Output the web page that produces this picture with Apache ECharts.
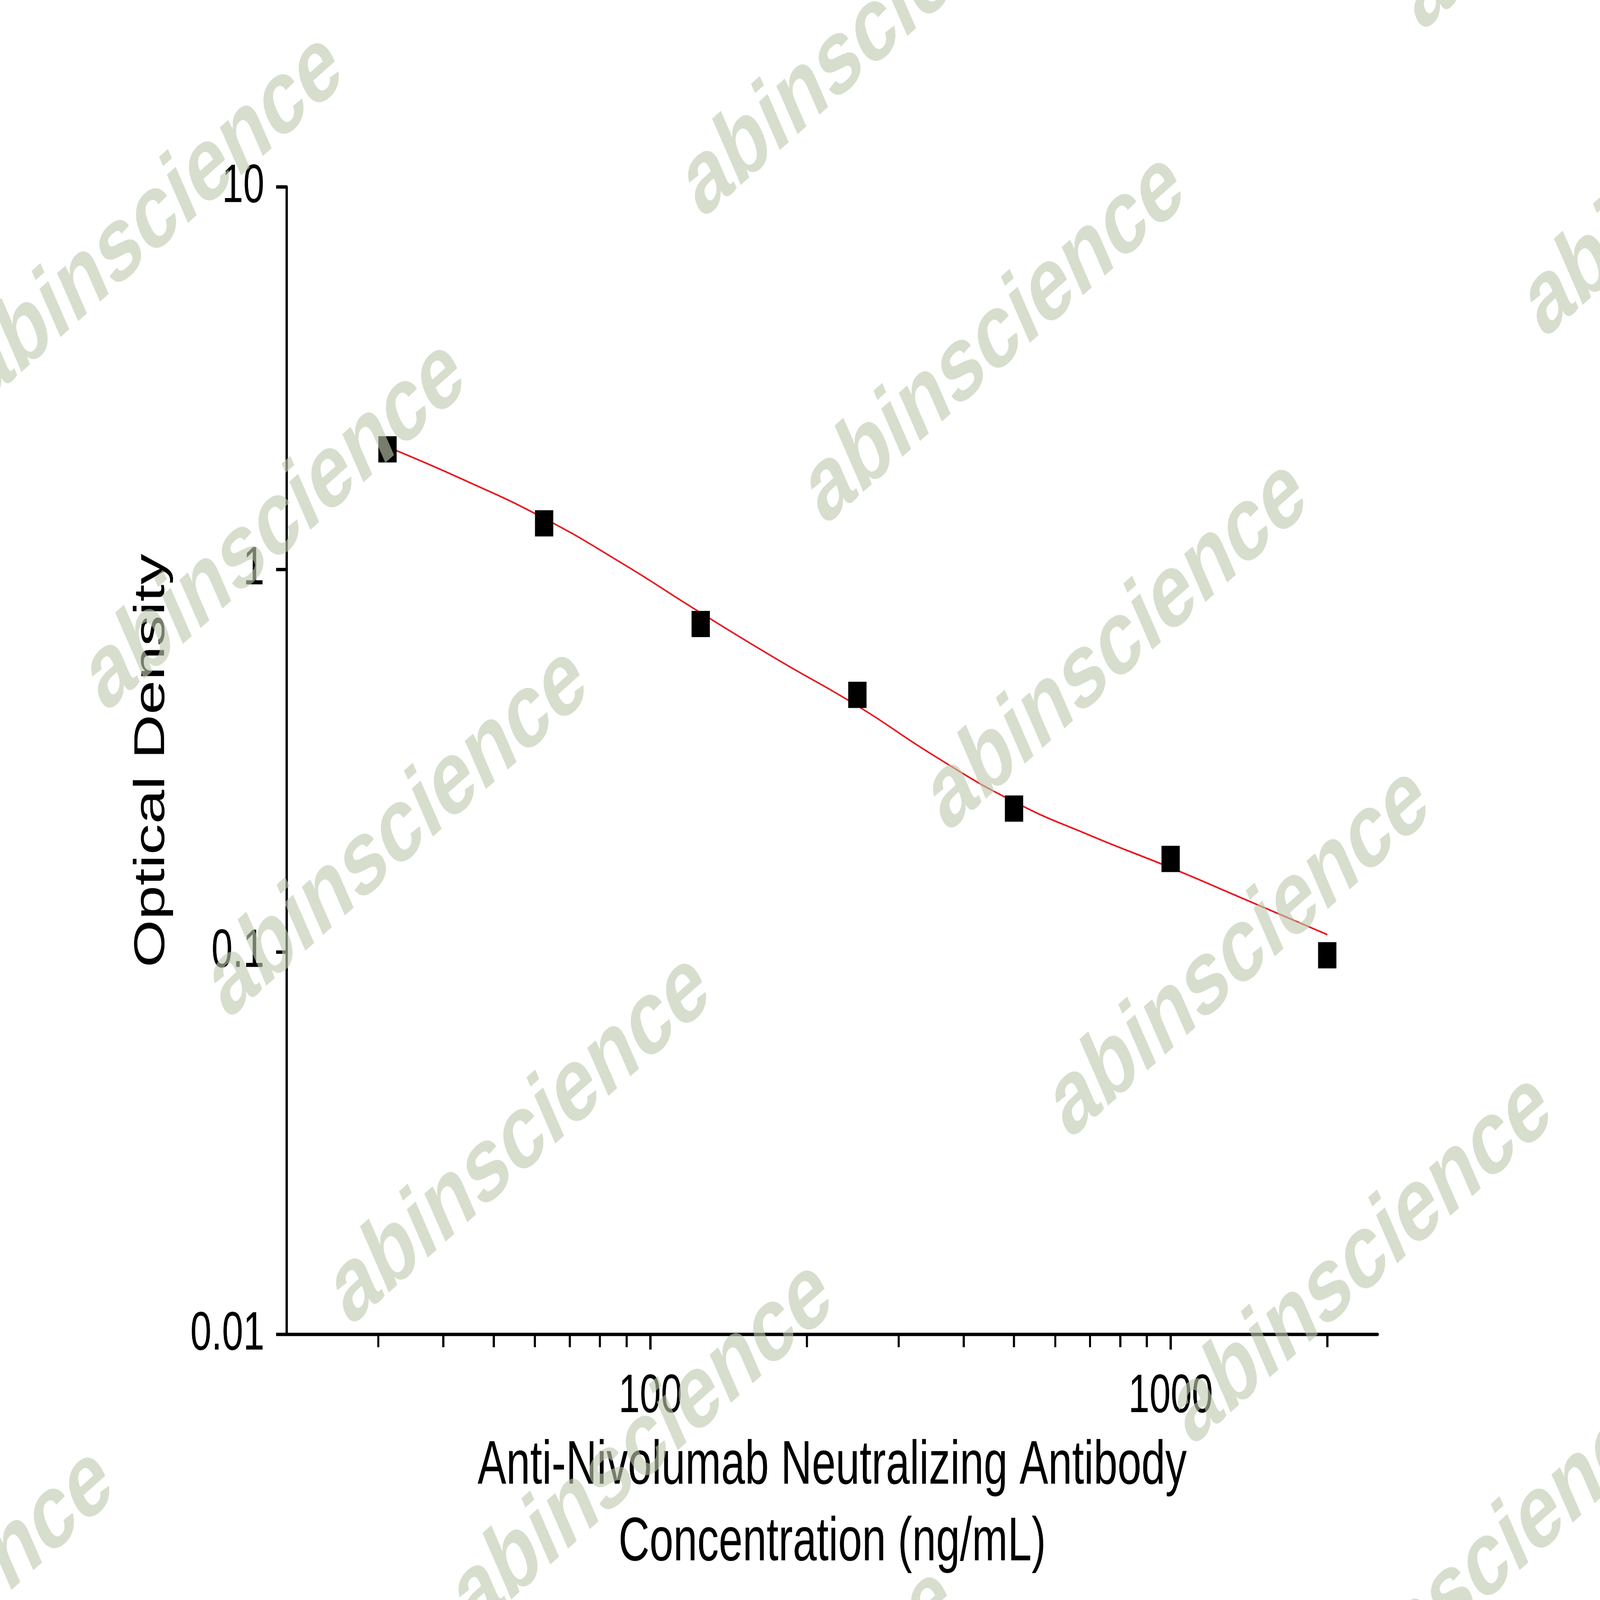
<!DOCTYPE html>
<html><head><meta charset="utf-8">
<script src="https://cdn.jsdelivr.net/npm/echarts@6/dist/echarts.min.js"></script>
<style>html,body{margin:0;padding:0;background:#fff;overflow:hidden;width:100%;height:100%}#c{width:6816px;height:4759px;transform-origin:0 0;position:absolute;left:0;top:0}</style>
</head><body><div id="c"></div>
<script>
const concentrations = [31.25, 62.5, 125, 250, 500, 1000, 2000];
const opticalDensity = [2.06, 1.32, 0.72, 0.47, 0.237, 0.175, 0.098];
const fitConc = [31.25, 44, 62.5, 88, 125, 176, 250, 352, 500, 704, 1000, 1410, 2000];
const fitOD = [2.09, 1.71, 1.36, 1.04, 0.77, 0.58, 0.44, 0.325, 0.247, 0.201, 0.166, 0.136, 0.111];
const xMajorTicks = [100, 1000];
const xMinorTicks = [30, 40, 50, 60, 70, 80, 90, 200, 300, 400, 500, 600, 700, 800, 900, 2000];
const yTicks = [0.01, 0.1, 1, 10];
const xRange = [20, 2500];

const L = Math.log10;
const el = document.getElementById('c');
el.style.transform = 'scale(' + (window.innerWidth / 6816) + ',' + (window.innerHeight / 4759) + ')';
const s = 6816 / 1568, sv = 4759 / 1095;
const fmt = v => { const n = Math.pow(10, Math.round(v)); return n < 1 ? n.toFixed(-Math.round(v)) : String(n); };

const wm = [];
const bases = [[-435, 488], [270, 360], [975, 232], [1680, 104]];
bases.forEach(b => {
  for (let i = -3; i <= 5; i++) {
    const cx = b[0] + 120 * i, cy = b[1] + 210 * i;
    if (cx < -400 || cx > 2000 || cy < -200 || cy > 1300) continue;
    wm.push({type: 'text', x: cx * s, y: cy * sv, rotation: 32 * Math.PI / 180, z: 100,
      style: {text: 'abinscience', font: 'bold 320px "Liberation Sans", Arial, sans-serif',
        fill: 'rgba(190,202,175,0.62)', textAlign: 'center', textVerticalAlign: 'middle'}});
  }
});

const axisLineStyle = {color: '#000', width: 10};
const ff = 'Liberation Sans, Arial';
const chart = echarts.init(el, null, {devicePixelRatio: 1, width: 6816, height: 4759});
chart.setOption({
  animation: false,
  backgroundColor: '#fff',
  grid: {left: 1221, right: 947, top: 556, bottom: 790},
  xAxis: [{
    type: 'value', min: L(xRange[0]), max: L(xRange[1]),
    splitLine: {show: false},
    axisLine: {show: true, onZero: false, lineStyle: axisLineStyle},
    axisTick: {show: true, length: 45, lineStyle: {width: 10, color: '#000'}, customValues: xMajorTicks.map(L)},
    axisLabel: {customValues: xMajorTicks.map(L), formatter: fmt, fontSize: 162, color: '#000', margin: 105, fontFamily: ff},
    name: 'Anti-Nivolumab Neutralizing Antibody\nConcentration (ng/mL)', nameLocation: 'middle', nameGap: 280,
    nameTextStyle: {fontSize: 183, color: '#000', lineHeight: 228, fontFamily: ff, verticalAlign: 'top'}
  }, {
    type: 'value', min: L(xRange[0]), max: L(xRange[1]), position: 'bottom',
    splitLine: {show: false}, axisLine: {show: false, onZero: false},
    axisTick: {show: true, length: 38, lineStyle: {width: 9, color: '#000'}, customValues: xMinorTicks.map(L)},
    axisLabel: {show: false}
  }],
  yAxis: {
    type: 'value', min: L(yTicks[0]), max: L(yTicks[yTicks.length - 1]), interval: 1,
    splitLine: {show: false},
    axisLine: {show: true, onZero: false, lineStyle: axisLineStyle},
    axisTick: {show: true, length: 45, lineStyle: {width: 10, color: '#000'}},
    axisLabel: {formatter: fmt, fontSize: 162, color: '#000', margin: 95, fontFamily: ff},
    name: 'Optical Density', nameLocation: 'middle', nameGap: 481,
    nameTextStyle: {fontSize: 183, color: '#000', fontFamily: ff}
  },
  series: [{
    type: 'line', smooth: 0.5, symbol: 'none', z: 2,
    lineStyle: {color: '#e8141c', width: 5},
    data: fitConc.map((c, i) => [L(c), L(fitOD[i])])
  }, {
    type: 'scatter', symbol: 'rect', symbolSize: 78, z: 3,
    itemStyle: {color: '#000', opacity: 1},
    data: concentrations.map((c, i) => [L(c), L(opticalDensity[i])])
  }],
  graphic: wm
});
</script></body></html>
